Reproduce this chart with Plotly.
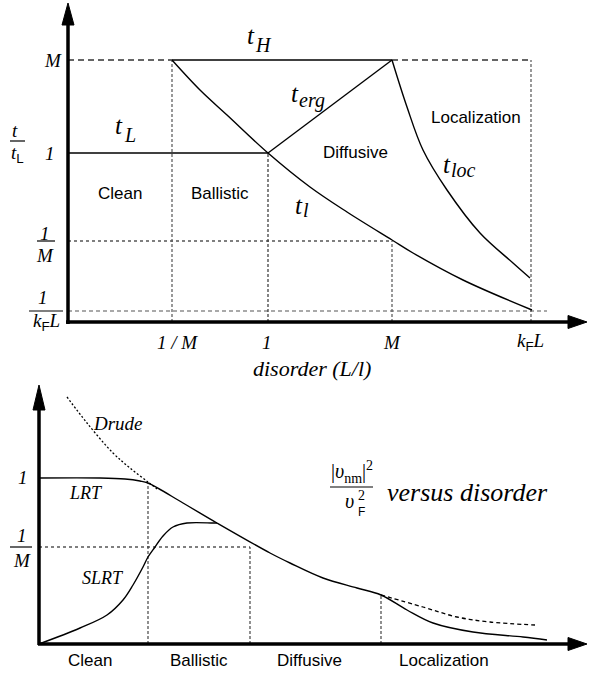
import plotly.graph_objects as go

W, H = 589, 677
SERIF = "Liberation Serif"
SANS = "Liberation Sans"

# ---------------- top panel data (schematic units, origin at axis corner) ----------------
top_x_ticks = [104, 200, 324, 463]            # 1/M, 1, M, kF L
top_x_labels = ["<i>1 / M</i>", "<i>1</i>", "<i>M</i>",
                "<i>k</i><sub><span style='font-family:Liberation Sans'>F</span></sub><i>L</i>"]
top_y_levels = [262, 169, 81, 11]             # M, 1, 1/M, 1/(kF L)

tH_x, tH_y = [104, 324], [262, 262]
tL_x, tL_y = [0, 200], [169, 169]
terg_x, terg_y = [200, 324], [169, 262]
tl_x = [104, 132, 159, 200, 242, 279, 324, 345, 395, 464]
tl_y = [262, 232, 207, 169, 135, 110, 82, 69, 42, 12]
tloc_x = [324, 339, 355, 379, 412, 445, 462]
tloc_y = [262, 215, 172, 132, 89, 59, 44]

# ---------------- bottom panel data ----------------
bot_y_levels = [167, 97]                      # 1, 1/M
bot_x_marks = [109, 211, 342]                 # region boundaries
lrt_x = [0, 61, 86, 101, 109, 144, 178, 231, 251, 284, 318, 342, 368, 394, 434, 484, 508]
lrt_y = [166, 166, 165, 163, 161, 141, 121, 91, 81, 66, 56, 49, 34, 21, 12, 7, 4]
slrt_x = [0, 41, 68, 84, 94, 104, 109, 116, 124, 134, 148, 174, 178]
slrt_y = [0, 16, 29, 44, 59, 77, 87, 97, 108, 117, 121, 121, 121]
drude_x = [28, 48, 74, 91, 109, 118]
drude_y = [247, 221, 191, 176, 162, 155]
drude2_x = [342, 384, 418, 451, 496]
drude2_y = [49, 37, 27, 22, 19]

fig = go.Figure()


def line(x, y, ref="", width=1.4, color="black", dash="solid", shape="linear"):
    fig.add_trace(go.Scatter(
        x=x, y=y, mode="lines", xaxis="x" + ref, yaxis="y" + ref,
        line=dict(width=width, color=color, dash=dash, shape=shape, smoothing=1.0),
        hoverinfo="skip", showlegend=False))


def arrowhead(x, y, ref=""):
    fig.add_trace(go.Scatter(
        x=x, y=y, mode="lines", fill="toself", fillcolor="black",
        xaxis="x" + ref, yaxis="y" + ref, line=dict(width=1, color="black"),
        hoverinfo="skip", showlegend=False))


anns = []


def txt(x, y, s, size, ref="", font=SERIF, xanchor="center", yanchor="middle"):
    anns.append(dict(x=x, y=y, xref="x" + ref, yref="y" + ref, text=s, showarrow=False,
                     font=dict(family=font, size=size, color="black"),
                     xanchor=xanchor, yanchor=yanchor))


shapes = []


def bar(x0, x1, y, ref=""):
    shapes.append(dict(type="line", xref="x" + ref, yref="y" + ref, x0=x0, x1=x1, y0=y, y1=y,
                       line=dict(color="black", width=1.2)))


# ================= TOP PANEL =================
M_lev, one_lev, invM_lev, invk_lev = top_y_levels
xM_inv, x1, xM, xk = top_x_ticks
# reference (dashed / dotted) lines
line([0, xM_inv], [M_lev, M_lev], width=1.5, color="#333", dash="6px,4px")
line([xM, xk], [M_lev, M_lev], width=1.5, color="#333", dash="6px,4px")
line([0, xM], [invM_lev, invM_lev], width=1.1, color="black", dash="3px,3px")
line([0, xk + 16], [invk_lev, invk_lev], width=1.2, color="#555", dash="4px,3px")
line([xM_inv, xM_inv], [0, M_lev], width=1.2, color="#555", dash="3px,2px")
line([x1, x1], [0, one_lev], width=1.2, color="#333", dash="3px,2px")
line([xM, xM], [0, invM_lev], width=1.2, color="#555", dash="3px,2px")
line([xk, xk], [0, M_lev], width=1.2, color="#555", dash="3px,2px")
# time scales
line(tH_x, tH_y)
line(tL_x, tL_y)
line(terg_x, terg_y)
line(tl_x, tl_y, shape="spline")
line(tloc_x, tloc_y, shape="spline")
# axes
line([0, 0], [-2, 297], width=3.5)
arrowhead([-6, 0, 6, -6], [297, 319, 297, 297])
line([-2, 500], [0, 0], width=3.5)
arrowhead([500, 519, 500, 500], [-6.5, 0, 6.5, -6.5])

# top labels
txt(183, 287, "<i>t</i>", 25); txt(195, 277, "<i>H</i>", 20)
txt(51, 197, "<i>t</i>", 25); txt(62, 187, "<i>L</i>", 20)
txt(227, 229, "<i>t</i>", 25); txt(244, 222, "<i>erg</i>", 20)
txt(231, 117, "<i>t</i>", 25); txt(238, 112, "<i>l</i>", 20)
txt(379, 158, "<i>t</i>", 25); txt(395, 152, "<i>loc</i>", 20)
txt(287, 170, "Diffusive", 17, font=SANS)
txt(408, 205, "Localization", 17, font=SANS)
txt(52, 129, "Clean", 17, font=SANS)
txt(152, 129, "Ballistic", 17, font=SANS)
# y tick labels
txt(-15, M_lev, "<i>M</i>", 19)
txt(-18, one_lev, "<i>1</i>", 19)
txt(-23, invM_lev + 8, "<i>1</i>", 19); bar(-31, -13, invM_lev); txt(-23, invM_lev - 14, "<i>M</i>", 19)
txt(-25, invk_lev + 14, "<i>1</i>", 19); bar(-39, -5, invk_lev)
txt(-22, invk_lev - 11, top_x_labels[3], 19)
# y axis title t / t_L
txt(-53, 192, "<i>t</i>", 19); bar(-58, -43, 181)
txt(-51, 168, "<i>t</i><sub><span style='font-family:Liberation Sans'>L</span></sub>", 19)
# x tick labels
for xv, lab, dx in zip(top_x_ticks, top_x_labels, [5, -1, 0, -1]):
    txt(xv + dx, -20, lab, 19)
txt(244, -46, "<i>disorder (L/l)</i>", 22)

# ================= BOTTOM PANEL =================
one_b, invM_b = bot_y_levels
xb1, xb2, xb3 = bot_x_marks
line([0, xb2], [invM_b, invM_b], ref="2", width=1.1, dash="3px,3px")
line([xb1, xb1], [0, lrt_y[4]], ref="2", width=1.1, color="#333", dash="3px,2px")
line([xb2, xb2], [0, invM_b], ref="2", width=1.1, color="#333", dash="3px,2px")
line([xb3, xb3], [0, drude2_y[0]], ref="2", width=1.1, color="#333", dash="3px,2px")
line(drude_x, drude_y, ref="2", width=1.3, dash="2px,2px", shape="spline")
line(drude2_x, drude2_y, ref="2", width=1.3, dash="4px,3px", shape="spline")
line(lrt_x, lrt_y, ref="2", shape="spline")
line(slrt_x, slrt_y, ref="2", shape="spline")
# axes
line([0, 0], [-1, 234], ref="2", width=3.5)
arrowhead([-6, 0, 6, -6], [234, 259, 234, 234], ref="2")
line([-1, 529], [0, 0], ref="2", width=3.5)
arrowhead([529, 548, 529, 529], [-6.5, 0, 6.5, -6.5], ref="2")

txt(79, 221, "<i>Drude</i>", 19, ref="2")
txt(47, 151, "<i>LRT</i>", 18, ref="2")
txt(64, 66, "<i>SLRT</i>", 18, ref="2")
txt(-16, one_b, "<i>1</i>", 19, ref="2")
txt(-17, invM_b + 12, "<i>1</i>", 19, ref="2"); bar(-29, -7, invM_b, ref="2")
txt(-17, invM_b - 13, "<i>M</i>", 19, ref="2")
# formula
txt(313, 172, "|<i>\u03c5</i><sub>nm</sub>|<sup>2</sup>", 20, ref="2")
bar(291, 334, 157, ref="2")
txt(310, 143, "<i>\u03c5</i>", 20, ref="2")
txt(322, 149, "2", 14, ref="2")
txt(322, 132, "F", 12, ref="2", font=SANS)
txt(346, 152, "<i>versus disorder</i>", 26, ref="2", xanchor="left")
for xv, lab in zip([51, 160, 270, 405], ["Clean", "Ballistic", "Diffusive", "Localization"]):
    txt(xv, -16, lab, 17, ref="2", font=SANS)

fig.update_layout(
    width=W, height=H, margin=dict(l=0, r=0, t=0, b=0, pad=0),
    paper_bgcolor="white", plot_bgcolor="rgba(0,0,0,0)", showlegend=False,
    xaxis=dict(domain=[0, 1], range=[-68, 521], visible=False, fixedrange=True),
    yaxis=dict(domain=[0, 1], range=[-355, 322], visible=False, fixedrange=True),
    xaxis2=dict(domain=[0, 1], range=[-39, 550], visible=False, anchor="y2", overlaying="x", fixedrange=True),
    yaxis2=dict(domain=[0, 1], range=[-33, 644], visible=False, anchor="x2", overlaying="y", fixedrange=True),
    annotations=anns, shapes=shapes,
)
fig.write_html("out.html", config={"displayModeBar": False})
